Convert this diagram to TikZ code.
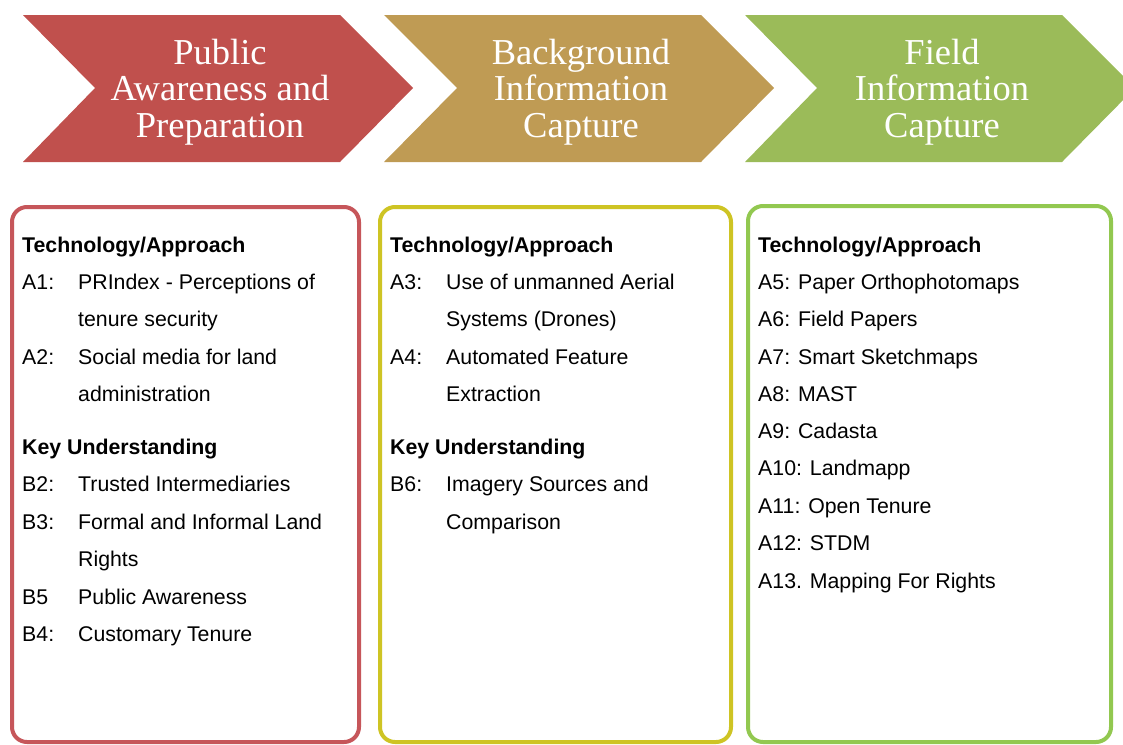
\documentclass[tikz,border=0pt]{standalone}
\usepackage{fontspec}
\setsansfont{Liberation Sans}
\newfontfamily\chevfont{Liberation Serif}
\definecolor{chevred}{RGB}{192,80,77}
\definecolor{chevtan}{RGB}{191,155,84}
\definecolor{chevgreen}{RGB}{155,187,89}
\definecolor{boxred}{RGB}{198,86,90}
\definecolor{boxyellow}{RGB}{206,196,36}
\definecolor{boxgreen}{RGB}{146,200,80}
\begin{document}
\begin{tikzpicture}[x=1pt,y=-1pt]
\tikzstyle{chevtext}=[align=center,text=white,inner sep=0pt,font=\chevfont\fontsize{36.5}{36.5}\selectfont]
\tikzstyle{panel}=[line width=4pt,rounded corners=15pt,fill=white]
\tikzstyle{every node}=[inner sep=0pt,font=\sffamily\fontsize{21.3}{25}\selectfont]
\tikzstyle{head}=[anchor=base west,font=\sffamily\bfseries\fontsize{21.3}{25}\selectfont]
\tikzstyle{lbl}=[anchor=base west]
\useasboundingbox (0,0) rectangle (1123,744);

\fill[chevred] (23,15) -- (340,15) -- (413,88) -- (340,162) -- (23,162) -- (95,88) -- cycle;
\fill[chevtan] (384,15) -- (701,15) -- (774,88) -- (701,162) -- (384,162) -- (457,88) -- cycle;
\fill[chevgreen] (745,15) -- (1062,15) -- (1135,88) -- (1062,162) -- (745,162) -- (817,88) -- cycle;
\node[chevtext](c1) at (220,92) {Public\\Awareness and\\Preparation};
\node[chevtext](c2) at (581,92) {Background\\Information\\Capture};
\node[chevtext](c3) at (942,92) {Field\\Information\\Capture};

\draw[panel,draw=boxred] (12,207) rectangle (359,742);
\draw[panel,draw=boxyellow] (380,207) rectangle (731,742);
\draw[panel,draw=boxgreen] (748,206) rectangle (1111,742);

\node[head](h1) at (22,252) {Technology/Approach};
\node[lbl](p1) at (22,289) {A1:};
\node[lbl](q1) at (78,289) {PRIndex - Perceptions of};
\node[lbl](q2) at (78,326.5) {tenure security};
\node[lbl](p2) at (22,364) {A2:};
\node[lbl](q3) at (78,364) {Social media for land};
\node[lbl](q4) at (78,401) {administration};
\node[head](k1) at (22,454) {Key Understanding};
\node[lbl](p3) at (22,491.5) {B2:};
\node[lbl](q5) at (78,491.5) {Trusted Intermediaries};
\node[lbl](p4) at (22,529) {B3:};
\node[lbl](q6) at (78,529) {Formal and Informal Land};
\node[lbl](q7) at (78,566) {Rights};
\node[lbl](p5) at (22,604) {B5};
\node[lbl](q8) at (78,604) {Public Awareness};
\node[lbl](p6) at (22,641) {B4:};
\node[lbl](q9) at (78,641) {Customary Tenure};

\node[head](h2) at (390,252) {Technology/Approach};
\node[lbl](r1) at (390,289) {A3:};
\node[lbl](s1) at (446,289) {Use of unmanned Aerial};
\node[lbl](s2) at (446,326.5) {Systems (Drones)};
\node[lbl](r2) at (390,364) {A4:};
\node[lbl](s3) at (446,364) {Automated Feature};
\node[lbl](s4) at (446,401) {Extraction};
\node[head](k2) at (390,454) {Key Understanding};
\node[lbl](r3) at (390,491.5) {B6:};
\node[lbl](s5) at (446,491.5) {Imagery Sources and};
\node[lbl](s6) at (446,529) {Comparison};

\node[head](h3) at (758,252) {Technology/Approach};
\node[lbl](u1) at (758,289) {A5: Paper Orthophotomaps};
\node[lbl](u2) at (758,326.5) {A6: Field Papers};
\node[lbl](u3) at (758,364) {A7: Smart Sketchmaps};
\node[lbl](u4) at (758,401) {A8: MAST};
\node[lbl](u5) at (758,438) {A9: Cadasta};
\node[lbl](u6) at (758,475.5) {A10: Landmapp};
\node[lbl](u7) at (758,513) {A11: Open Tenure};
\node[lbl](u8) at (758,550) {A12: STDM};
\node[lbl](u9) at (758,588) {A13. Mapping For Rights};
\end{tikzpicture}
\end{document}
